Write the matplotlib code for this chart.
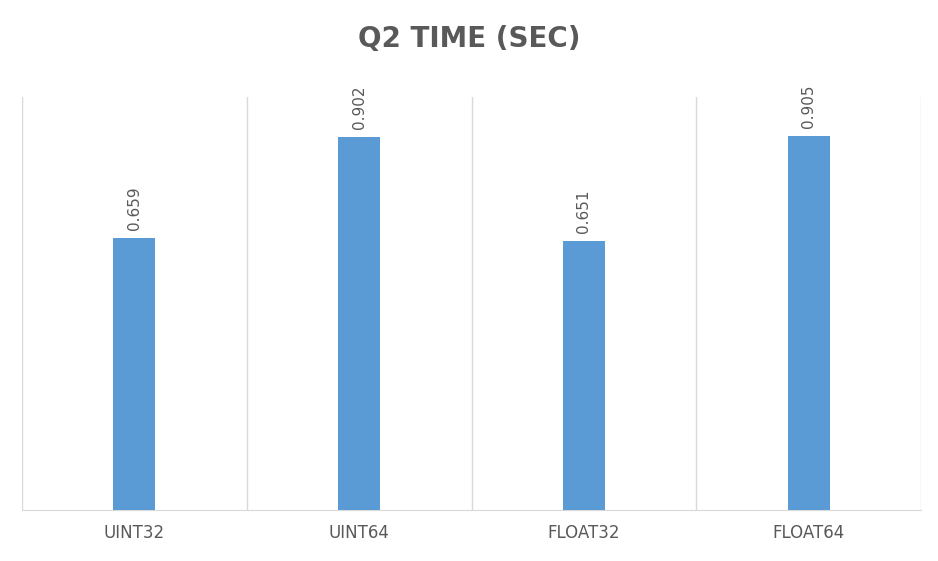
import matplotlib.pyplot as plt

categories = ['UINT32', 'UINT64', 'FLOAT32', 'FLOAT64']
times = [0.659, 0.902, 0.651, 0.905]

fig = plt.figure(figsize=(9.38, 5.61), dpi=100)
ax = fig.add_axes([22/938, 51/561, 899/938, 413/561])

x = range(len(categories))
ax.bar(x, times, width=0.186, color='#5b9bd5', zorder=3)
for i, v in enumerate(times):
    ax.text(i, v + 0.02, f'{v:.3f}', rotation=90, ha='center', va='bottom',
            color='#595959', fontsize=11)

ax.set_xlim(-0.5, len(categories) - 0.5)
ax.set_ylim(0, 1)
ax.set_xticks(list(x))
ax.set_xticklabels(categories, fontsize=12, color='#595959')
ax.set_yticks([])
for b in [i - 0.5 for i in range(len(categories) + 1)]:
    ax.axvline(b, color='#d9d9d9', lw=1, zorder=1)
for s in ['top', 'left', 'right']:
    ax.spines[s].set_visible(False)
ax.spines['bottom'].set_color('#d9d9d9')
ax.tick_params(axis='x', length=0, pad=10)

fig.text(0.5, 0.93, 'Q2 TIME (SEC)', ha='center', va='center', fontsize=20,
         fontweight='bold', color='#595959')

fig.savefig('out.png', dpi=100)
